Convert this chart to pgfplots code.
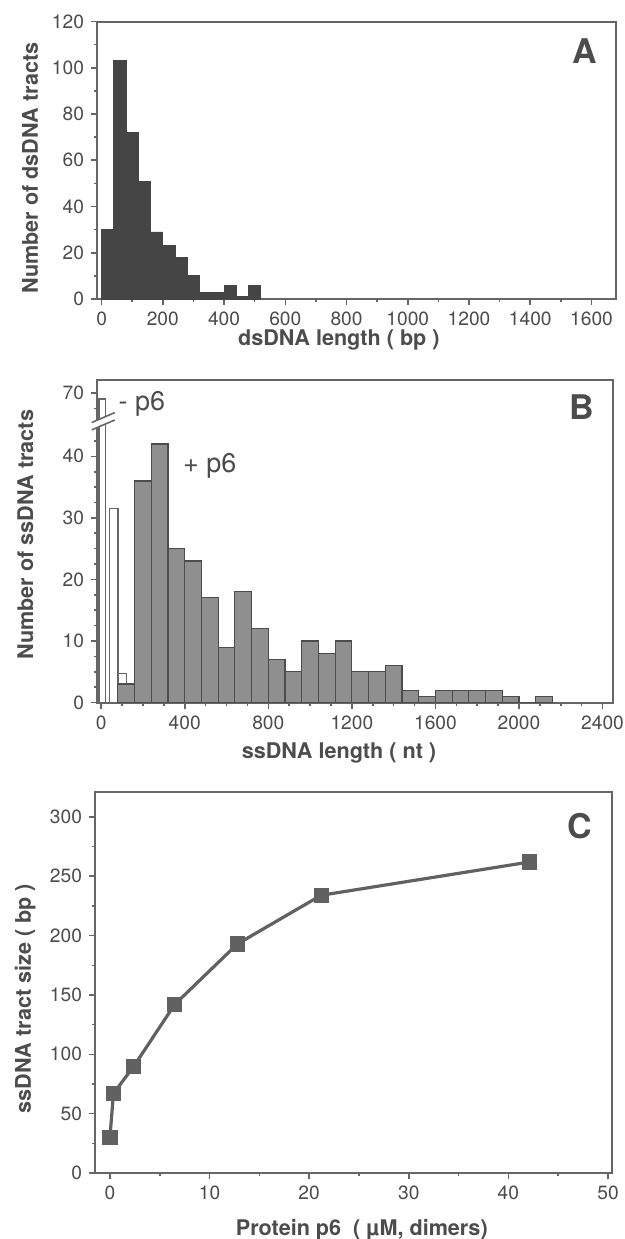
\documentclass[border=0pt]{standalone}
\usepackage{fontspec}
\setmainfont{TeX Gyre Heros}
\usepackage{pgfplots}
\pgfplotsset{compat=1.18}

\definecolor{ink}{gray}{0.30}
\definecolor{frame}{gray}{0.40}
\definecolor{barA}{gray}{0.27}
\definecolor{barB}{gray}{0.56}
\definecolor{barBline}{gray}{0.30}
\definecolor{lineC}{gray}{0.38}

\pgfplotsset{
  panel/.style={
    scale only axis, anchor=south west,
    axis line style={draw=frame, line width=1pt},
    tick style={draw=frame, line width=0.8pt},
    tick align=outside, tick pos=left,
    major tick length=3pt, minor tick length=1.6pt,
    tick label style={font=\fontsize{9.6}{11}\selectfont, text=ink},
    /pgf/number format/assume math mode=true,
    /pgf/number format/1000 sep={},
    label style={font=\bfseries\fontsize{10.8}{12}\selectfont, text=ink},
  },
}
\tikzset{letter/.style={font=\bfseries\fontsize{17}{19}\selectfont, text=ink}}

\begin{document}
\begin{tikzpicture}
\useasboundingbox (0,0) rectangle (312.5pt,-619.5pt);

% ---- A: dsDNA tracts
\begin{axis}[panel, at={(48.5pt,-149.5pt)}, width=259.5pt, height=138.75pt,
  xmin=-15, xmax=1680, ymin=0, ymax=120,
  xtick={0,200,...,1600}, minor x tick num=1,
  ytick={0,20,...,120}, minor y tick num=1,
  xlabel={dsDNA length ( bp )}, ylabel={Number of dsDNA tracts},
  xlabel style={at={(axis description cs:0.466,-0.169)}, anchor=base},
  ylabel style={at={(axis description cs:-0.114,0.472)}, anchor=base},
]
\addplot[ybar interval, fill=barA, draw=barA] coordinates {
  (0,30) (40,103) (80,72) (120,51) (160,29) (200,23) (240,18) (280,10)
  (320,3) (360,3) (400,6) (440,1) (480,6) (520,0)};
\node[letter] at (axis description cs:0.94,0.894) {A};
\end{axis}

% ---- B: ssDNA tracts, y axis broken between 45 and 65
\begin{axis}[panel, at={(48.5pt,-351.25pt)}, width=258pt, height=161.25pt,
  xmin=-20, xmax=2450, ymin=0, ymax=52.4,
  xtick={0,400,...,2400}, minor x tick num=3,
  ytick={0,10,20,30,40,50.3}, yticklabels={0,10,20,30,40,70},
  minor ytick={2.5,5,...,42.5,47.8},
  clip=false,
  xlabel={ssDNA length ( nt )}, ylabel={Number of ssDNA tracts},
  xlabel style={at={(axis description cs:0.469,-0.175)}, anchor=base},
  ylabel style={at={(axis description cs:-0.124,0.52)}, anchor=base},
]
% - p6
\addplot[ybar interval, fill=white, draw=frame, line width=0.7pt,
  y filter/.expression={y>45 ? y-19.7 : y}] coordinates {
  (-10,69) (20,0) (40,31.5) (80,4.7) (120,0)};
% + p6
\addplot[ybar interval, fill=barB, draw=barBline, line width=0.6pt] coordinates {
  (80,3) (160,36) (240,42) (320,25) (400,23) (480,17) (560,9) (640,18)
  (720,12) (800,7) (880,5) (960,10) (1040,8) (1120,10) (1200,5) (1280,5)
  (1360,6) (1440,2) (1520,1) (1600,2) (1680,2) (1760,2) (1840,2) (1920,1)
  (2000,0) (2080,1) (2160,0)};
% axis break
\fill[white] (axis cs:-45,44.3) -- (axis cs:65,45.9) -- (axis cs:65,47.1) -- (axis cs:-45,45.5) -- cycle;
\draw[frame, line width=0.8pt] (axis cs:-45,44.3) -- (axis cs:65,45.9);
\draw[frame, line width=0.8pt] (axis cs:-45,45.5) -- (axis cs:65,47.1);
\node[font=\fontsize{13.5}{15}\selectfont, text=ink] at (axis cs:195,48.6) {- p6};
\node[font=\fontsize{13.5}{15}\selectfont, text=ink] at (axis cs:520,38.5) {+ p6};
\node[letter] at (axis description cs:0.94,0.916) {B};
\end{axis}

% ---- C: tract size vs p6
\begin{axis}[panel, at={(47.5pt,-586.5pt)}, width=258.5pt, height=190.5pt,
  xmin=-1.5, xmax=50.4, ymin=0, ymax=321,
  xtick={0,10,...,50}, minor x tick num=1,
  ytick={0,50,...,300}, minor y tick num=1,
  xlabel={Protein p6\ \ ( µM, dimers)}, ylabel={ssDNA tract size ( bp )},
  xlabel style={at={(axis description cs:0.516,-0.163)}, anchor=base},
  ylabel style={at={(axis description cs:-0.124,0.458)}, anchor=base},
]
\addplot[color=lineC, line width=1.6pt, mark=square*, mark size=3pt,
  mark options={fill=lineC, draw=lineC}] coordinates {
  (0,30) (0.35,67) (2.4,90) (6.5,142) (12.8,193) (21.2,234) (42.1,262)};
\node[letter] at (axis description cs:0.938,0.911) {C};
\end{axis}
\end{tikzpicture}
\end{document}
